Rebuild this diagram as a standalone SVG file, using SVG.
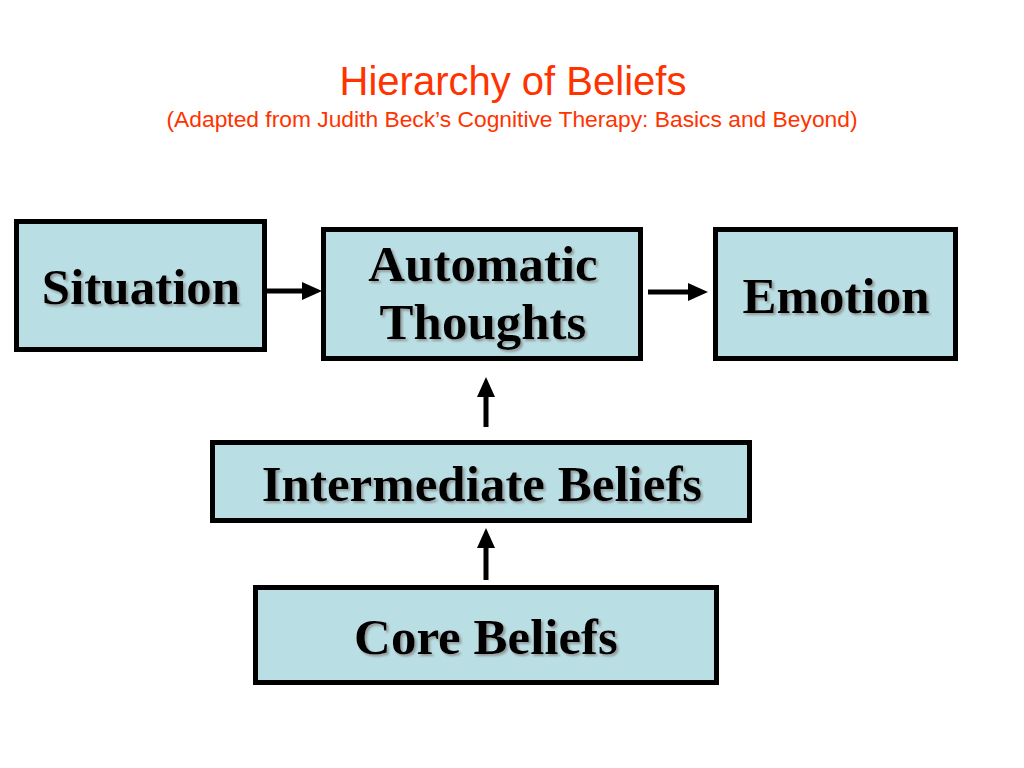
<svg xmlns="http://www.w3.org/2000/svg" width="1024" height="768" viewBox="0 0 1024 768">
  <defs>
    <style>
      .box { fill: #B9DEE3; stroke: #000; stroke-width: 5; }
      .lbl { font-family: "Liberation Serif", "Times New Roman", serif; font-weight: bold; font-size: 51px; fill: #000; text-anchor: middle; filter: url(#shadow); }
      .title { font-family: "Liberation Sans", Arial, sans-serif; fill: #FF3300; text-anchor: middle; }
      .conn { stroke: #000; stroke-width: 5; fill: none; marker-end: url(#arrow); }
    </style>
    <filter id="shadow" x="-10%" y="-20%" width="120%" height="140%">
      <feDropShadow dx="2" dy="2" stdDeviation="1" flood-color="#888" flood-opacity="0.8"/>
    </filter>
    <marker id="arrow" markerUnits="userSpaceOnUse" markerWidth="20" markerHeight="18" refX="0" refY="9" orient="auto">
      <path d="M0,0 L20,9 L0,18 z" fill="#000"/>
    </marker>
  </defs>
  <rect width="1024" height="768" fill="#fff"/>

  <g id="title">
    <text class="title" x="513" y="95" font-size="40">Hierarchy of Beliefs</text>
    <text class="title" x="512" y="127" font-size="22.8">(Adapted from Judith Beck’s Cognitive Therapy: Basics and Beyond)</text>
  </g>

  <g id="connectors">
    <line class="conn" x1="267" y1="291" x2="302" y2="291"/>
    <line class="conn" x1="648" y1="292" x2="688" y2="292"/>
    <line class="conn" x1="486" y1="427" x2="486" y2="397"/>
    <line class="conn" x1="486" y1="580" x2="486" y2="548"/>
  </g>

  <g id="situation">
    <rect class="box" x="16.5" y="221.5" width="248" height="128"/>
    <text class="lbl" x="141" y="304">Situation</text>
  </g>
  <g id="automatic-thoughts">
    <rect class="box" x="323.5" y="229.5" width="317" height="129"/>
    <text class="lbl" x="483" y="281">Automatic</text>
    <text class="lbl" x="483" y="339">Thoughts</text>
  </g>
  <g id="emotion">
    <rect class="box" x="715.5" y="229.5" width="240" height="129"/>
    <text class="lbl" x="836" y="313">Emotion</text>
  </g>
  <g id="intermediate-beliefs">
    <rect class="box" x="212.5" y="442.5" width="537" height="78"/>
    <text class="lbl" x="482" y="501">Intermediate Beliefs</text>
  </g>
  <g id="core-beliefs">
    <rect class="box" x="255.5" y="587.5" width="461" height="95"/>
    <text class="lbl" x="486" y="654">Core Beliefs</text>
  </g>
</svg>
